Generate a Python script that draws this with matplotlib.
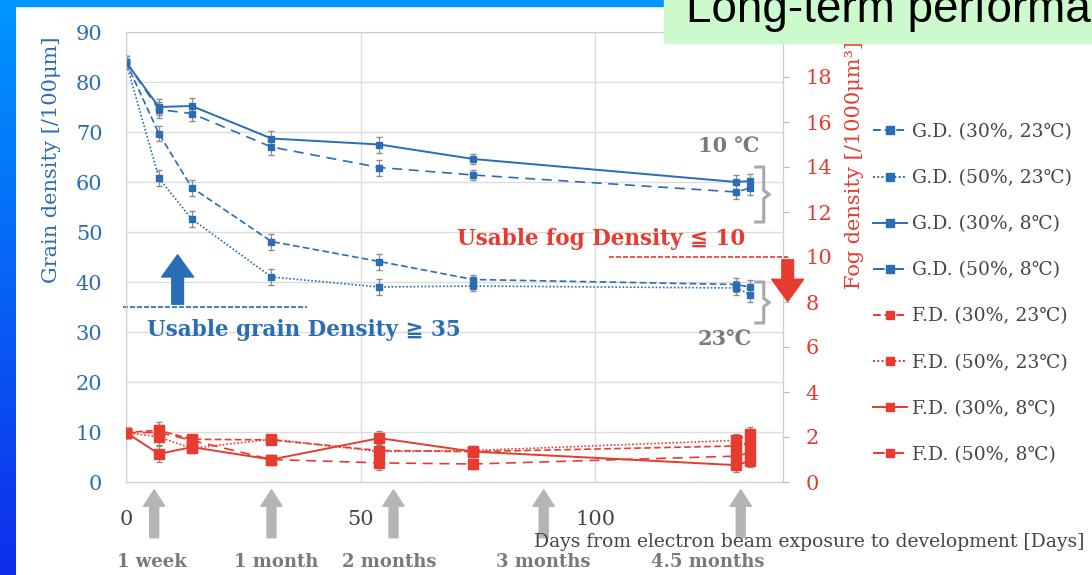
import numpy as np
import matplotlib
matplotlib.use('Agg')
import matplotlib.pyplot as plt
from matplotlib.lines import Line2D
from matplotlib.patches import Rectangle

plt.rcParams['font.family'] = ['DejaVu Serif', 'DejaVu Sans', 'Noto Sans CJK JP']

# Storage time (days) for each measurement
days = [0, 7, 14, 31, 54, 74, 130, 133]

# Grain density [/100um], left axis
gd_30_23 = [84.0, 69.7, 58.9, 48.1, 44.1, 40.5, 39.5, 39.0]
gd_50_23 = [84.0, 60.8, 52.6, 41.0, 39.0, 39.2, 38.8, 37.5]
gd_30_8 = [84.0, 75.0, 75.2, 68.7, 67.5, 64.6, 60.0, 60.2]
gd_50_8 = [84.0, 74.5, 73.7, 67.0, 62.9, 61.4, 58.0, 58.8]
gd_err = [1.2, 1.6, 1.6, 1.6, 1.6, 1.0, 1.4, 1.4]

# Fog density [/1000um^3], right axis
fd_30_23 = [2.2, 2.3, 1.9, 1.87, 1.4, 1.35, 1.6, 1.75]
fd_50_23 = [2.2, 2.0, 1.5, 1.9, 1.35, 1.4, 1.85, 2.15]
fd_30_8 = [2.2, 1.25, 1.55, 1.0, 1.95, 1.35, 0.75, 0.95]
fd_50_8 = [2.2, 2.2, 1.85, 1.0, 0.85, 0.8, 1.15, 1.3]
fd_err = [0.1, 0.35, 0.2, 0.15, 0.3, 0.2, 0.3, 0.3]

labels = ['G.D. (30%, 23℃)', 'G.D. (50%, 23℃)', 'G.D. (30%, 8℃)', 'G.D. (50%, 8℃)',
          'F.D. (30%, 23℃)', 'F.D. (50%, 23℃)', 'F.D. (30%, 8℃)', 'F.D. (50%, 8℃)']

# Storage periods marked under the axis
period_days = [6, 31, 57, 89, 131]
period_label_days = [5.5, 32, 56, 89, 124]
period_labels = ['1 week', '1 month', '2 months', '3 months', '4.5 months']

BLUE = '#2a6db5'
RED = '#e63b2e'
GRAY = '#7a7a7a'
DARK = '#454545'

styles = [(0, (4, 2)), (0, (1, 1.2)), '-', (0, (6, 4))]

W, H = 1092, 575
fig = plt.figure(figsize=(W / 100, H / 100), dpi=100)


def fx(px):
    return px / W


def fy(py):
    return 1 - py / H


# slide background: blue strips on the left and top
strip = fig.add_axes([0, 0, fx(16), 1])
grad = np.linspace(0, 1, 256).reshape(-1, 1)
top_c = np.array([0, 150, 255]) / 255
bot_c = np.array([15, 45, 235]) / 255
img = (top_c[None, None, :] * (1 - grad[:, :, None]) + bot_c[None, None, :] * grad[:, :, None])
strip.imshow(img, aspect='auto', extent=[0, 1, 0, 1])
strip.axis('off')
fig.patches.append(Rectangle((0, fy(6)), fx(664), 6 / H, transform=fig.transFigure,
                             color='#0096ff', zorder=5))

ax = fig.add_axes([fx(126), fy(482), fx(783 - 126), (482 - 32) / H])
ax2 = ax.twinx()

ax.set_xlim(0, 140)
ax.set_ylim(0, 90)
ax2.set_ylim(0, 20)

for y, st in zip([gd_30_23, gd_50_23, gd_30_8, gd_50_8], styles):
    lw = 1.4 if st == '-' else 1.2
    ax.errorbar(days, y, yerr=gd_err, color=BLUE, ls=st, lw=lw, marker='s', ms=5,
                ecolor='#8a8a8a', elinewidth=0.8, capsize=2, zorder=3)

for y, st in zip([fd_30_23, fd_50_23, fd_30_8, fd_50_8], styles):
    lw = 1.4 if st == '-' else 1.2
    ax2.errorbar(days, y, yerr=fd_err, color=RED, ls=st, lw=lw, marker='s', ms=6.5,
                 ecolor='#8a8a8a', elinewidth=0.8, capsize=2, zorder=3)

ax.set_xticks([0, 50, 100])
ax.set_yticks(range(0, 91, 10))
ax2.set_yticks(range(0, 19, 2))
ax.grid(True, color='#dcdcdc', lw=1)
ax.set_axisbelow(True)
for a in (ax, ax2):
    for s in a.spines.values():
        s.set_color('#cfcfcf')
ax.tick_params(axis='x', length=0, pad=20, labelsize=15, labelcolor=DARK)
ax.tick_params(axis='y', length=0, pad=17, labelsize=15, labelcolor=BLUE)
ax2.tick_params(axis='y', length=4, color='#bbbbbb', pad=12, labelsize=15, labelcolor=RED)

fig.text(fx(52), fy(160), 'Grain density [/100μm]', rotation=90, ha='center', va='center',
         color=BLUE, fontsize=15)
fig.text(fx(855), fy(165), 'Fog density [/1000μm³]', rotation=90, ha='center', va='center',
         color=RED, fontsize=15)
fig.text(fx(1085), fy(542), 'Days from electron beam exposure to development [Days]',
         ha='right', va='center', color=DARK, fontsize=13.5)

# usable limits
ax.plot([-0.6, 38.5], [35, 35], color=BLUE, ls=(0, (3, 1.2)), lw=1.2, clip_on=False)
ax.annotate('', xy=(11, 46), xytext=(11, 35),
            arrowprops=dict(arrowstyle='simple,head_length=0.8,head_width=1.15,tail_width=0.42',
                            color=BLUE, mutation_scale=20))
ax.text(38, 30.4, 'Usable grain Density ≧ 35', ha='center', va='center', color=BLUE,
        fontsize=15.5, fontweight='bold')

ax2.plot([103, 141], [10, 10], color=RED, ls=(0, (3, 1.2)), lw=1.2, clip_on=False)
ax2.annotate('', xy=(141, 7.9), xytext=(141, 10),
             arrowprops=dict(arrowstyle='simple,head_length=0.8,head_width=1.15,tail_width=0.42',
                             color=RED, mutation_scale=20), annotation_clip=False)
ax2.text(132, 10.8, 'Usable fog Density ≦ 10', ha='right', va='center', color=RED,
         fontsize=15.5, fontweight='bold')

# temperature brackets
for top, bot in [(63, 52), (40, 31.8)]:
    mid = (top + bot) / 2
    ax.plot([134.2, 135.9, 135.9, 137.1, 135.9, 135.9, 134.2],
            [top, top, mid + 0.8, mid, mid - 0.8, bot, bot],
            color='#a8a8a8', lw=2.2, clip_on=False, solid_joinstyle='round')
ax.text(128.5, 67, '10 ℃', ha='center', va='center', color=GRAY, fontsize=15, fontweight='bold')
ax.text(127.5, 28.4, '23℃', ha='center', va='center', color=GRAY, fontsize=15, fontweight='bold')

# storage period arrows under the axis
xt = ax.get_xaxis_transform()
for d in period_days:
    ax.annotate('', xy=(d, -0.011), xytext=(d, -0.13), xycoords=xt, textcoords=xt,
                arrowprops=dict(arrowstyle='simple,head_length=0.7,head_width=0.9,tail_width=0.38',
                                color='#b5b5b5', mutation_scale=17), annotation_clip=False)
for d, lab in zip(period_label_days, period_labels):
    ax.text(d, -0.178, lab, transform=xt, ha='center', va='center', color=GRAY,
            fontsize=13, fontweight='bold')

# legend
handles = []
for color in (BLUE, RED):
    for st in styles:
        handles.append(Line2D([], [], color=color, ls=st, lw=1.4, marker='s', ms=5.5))
fig.legend(handles, labels, loc='upper left', bbox_to_anchor=(fx(873), fy(123)),
           frameon=False, fontsize=13.5, handlelength=1.8, handletextpad=0.3,
           labelspacing=1.5, labelcolor=DARK, borderpad=0, borderaxespad=0)

# slide title box
fig.patches.append(Rectangle((fx(664), fy(43)), 1 - fx(664), 43 / H, transform=fig.transFigure,
                             color='#ccfacc', zorder=6))
fig.text(fx(686), fy(22), 'Long-term performance', ha='left', va='baseline', fontsize=33,
         family='Liberation Sans', color='black', zorder=7)

fig.savefig('out.png', dpi=100)
